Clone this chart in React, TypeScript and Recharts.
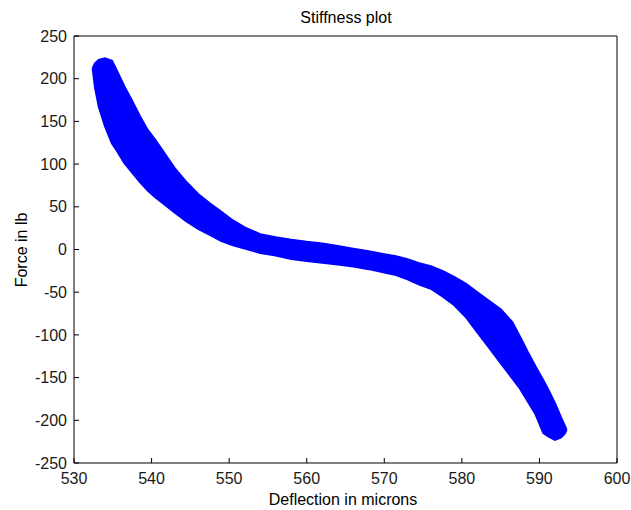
import { ComposedChart, Area, Line, XAxis, YAxis } from "recharts";

// deflection (microns) sampled along the band
const deflection = [
  532.4, 532.7, 533.2, 534.0, 534.9, 535.5, 536.5, 537.5, 538.5, 539.5, 540.5, 541.5,
  543, 544.5, 546, 547.5, 549, 550.5, 552, 554, 556, 558, 560, 562, 564, 566, 568, 570,
  571.5, 573, 574.5, 576, 577.5, 579, 580.5, 582, 583.5, 585, 586.5, 587.5, 588.5,
  589.5, 590.5, 591.2, 592, 592.8, 593.3, 593.5,
];

// lower edge of the force band (lb)
const forceLow = [
  212, 190, 167, 144, 124, 116, 101, 90, 79, 69, 61, 54, 43, 33, 24, 17, 10, 5, 1, -4,
  -7, -11, -13.5, -15.5, -17.5, -20, -23, -27, -30, -35, -41, -46, -55, -65, -79, -97,
  -115, -133, -151, -163, -178, -193, -215, -219, -223, -220, -215, -211,
];

// upper edge of the force band (lb)
const forceHigh = [
  212, 218, 222, 224, 221, 210, 191, 174, 156, 140, 128, 115, 95, 79, 65, 54, 44, 34,
  26, 18, 14.5, 11.5, 9, 7, 4, 1, -2, -5.5, -8, -11.5, -16, -19.5, -25, -32, -40, -50,
  -60, -70, -85, -102, -120, -137, -153, -165, -180, -197, -207, -211,
];

const xTicks = [530, 540, 550, 560, 570, 580, 590, 600];
const yTicks = [-250, -200, -150, -100, -50, 0, 50, 100, 150, 200, 250];

const data = deflection.map((x, i) => ({
  x,
  band: [forceLow[i], forceHigh[i]],
  mid: (forceLow[i] + forceHigh[i]) / 2,
}));

const font = "'Liberation Sans', Arial, sans-serif";
const tickStyle = { fontSize: 16, fill: "#1a1a1a", fontFamily: font };

export default function App() {
  return (
    <div style={{ position: "absolute", left: 0, top: 0, width: 631, height: 510, background: "#fff" }}>
      <ComposedChart width={631} height={510} data={data} margin={{ top: 35, right: 13, bottom: 0, left: 0 }}>
        <XAxis
          dataKey="x"
          type="number"
          domain={[530, 600]}
          ticks={xTicks}
          interval={0}
          height={47}
          tickSize={-5}
          tickMargin={15}
          tick={tickStyle}
          stroke="#000"
        />
        <XAxis
          xAxisId="top"
          dataKey="x"
          orientation="top"
          type="number"
          domain={[530, 600]}
          ticks={xTicks}
          interval={0}
          height={1}
          tickSize={-5}
          tick={false}
          stroke="#000"
        />
        <YAxis
          type="number"
          domain={[-250, 250]}
          ticks={yTicks}
          interval={0}
          width={74}
          tickSize={-5}
          tickMargin={12}
          tick={tickStyle}
          stroke="#000"
        />
        <YAxis
          yAxisId="right"
          orientation="right"
          type="number"
          domain={[-250, 250]}
          ticks={yTicks}
          interval={0}
          width={1}
          tickSize={-5}
          tick={false}
          stroke="#000"
        />
        <Area
          dataKey="band"
          type="linear"
          fill="#0000ff"
          fillOpacity={1}
          stroke="#0000ff"
          strokeWidth={2}
          isAnimationActive={false}
        />
        {/* carries the top/right frame axes, drawn invisibly */}
        <Line
          xAxisId="top"
          yAxisId="right"
          dataKey="mid"
          stroke="none"
          dot={false}
          activeDot={false}
          isAnimationActive={false}
        />
        <text x={346} y={23} textAnchor="middle" style={{ fontSize: 16, fontFamily: font, fill: "#000" }}>
          Stiffness plot
        </text>
        <text x={343} y={505} textAnchor="middle" style={{ fontSize: 16, fontFamily: font, fill: "#000" }}>
          Deflection in microns
        </text>
        <text
          x={27}
          y={250}
          textAnchor="middle"
          transform="rotate(-90 27 250)"
          style={{ fontSize: 16, fontFamily: font, fill: "#000" }}
        >
          Force in lb
        </text>
      </ComposedChart>
    </div>
  );
}
